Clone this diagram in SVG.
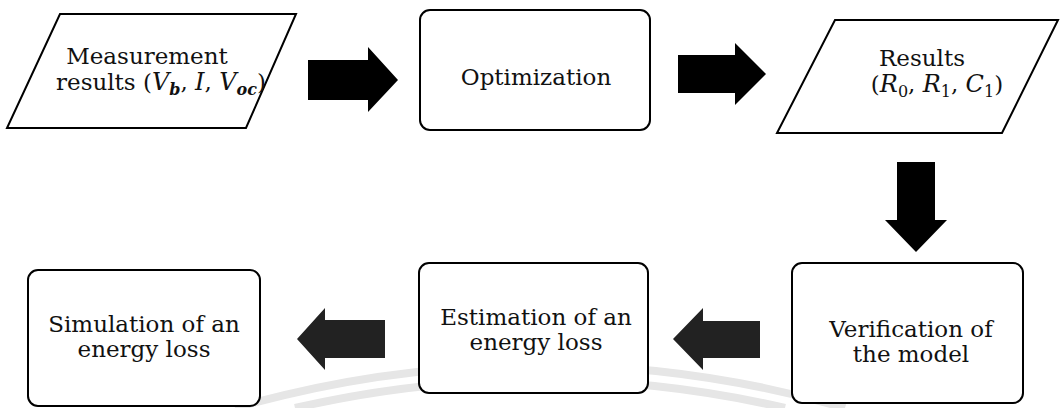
<svg xmlns="http://www.w3.org/2000/svg" width="1062" height="408" viewBox="0 0 1062 408">
<style>
.shape{fill:#fff;stroke:#000;stroke-width:2}
.t{font-family:"DejaVu Serif","Liberation Serif",serif;font-size:23px;fill:#111;text-anchor:middle}
.i{font-style:italic;font-size:24px}
.s{font-size:16px}
.sb{font-size:16px;font-style:italic;font-weight:bold}
.ab{fill:#000}
.ag{fill:#222}
.wm{fill:none;stroke:#e6e6e6;stroke-width:8}
</style>
<rect width="1062" height="408" fill="#fff"/>
<g id="watermark">
<path class="wm" d="M235 408 A1103 1103 0 0 1 845 408"/>
<path class="wm" d="M295 408 A1088 1088 0 0 1 785 408"/>
</g>
<g id="measurement">
<polygon class="shape" points="60,14 296,14 246,128 7,128"/>
<text class="t" x="147" y="64">Measurement</text>
<text class="t" x="161" y="90">results (<tspan class="i">V</tspan><tspan class="sb" dy="5">b</tspan><tspan dy="-5">, </tspan><tspan class="i">I</tspan>, <tspan class="i">V</tspan><tspan class="sb" dy="5">oc</tspan><tspan dy="-5">)</tspan></text>
</g>
<g id="optimization">
<rect class="shape" x="420" y="10" width="230" height="120" rx="10"/>
<text class="t" x="536" y="85">Optimization</text>
</g>
<g id="results">
<polygon class="shape" points="835,20 1058,20 1002,133 777,133"/>
<text class="t" x="922" y="66">Results</text>
<text class="t" x="937" y="92">(<tspan class="i">R</tspan><tspan class="s" dy="5">0</tspan><tspan dy="-5">, </tspan><tspan class="i">R</tspan><tspan class="s" dy="5">1</tspan><tspan dy="-5">, </tspan><tspan class="i">C</tspan><tspan class="s" dy="5">1</tspan><tspan dy="-5">)</tspan></text>
</g>
<g id="verification">
<rect class="shape" x="792" y="263" width="231" height="140" rx="10"/>
<text class="t" x="911" y="337">Verification of</text>
<text class="t" x="911" y="362">the model</text>
</g>
<g id="estimation">
<rect class="shape" x="419" y="263" width="229" height="130" rx="10"/>
<text class="t" x="536" y="325">Estimation of an</text>
<text class="t" x="536" y="350">energy loss</text>
</g>
<g id="simulation">
<rect class="shape" x="28" y="270" width="232" height="136" rx="10"/>
<text class="t" x="144" y="332">Simulation of an</text>
<text class="t" x="144" y="357">energy loss</text>
</g>
<g id="connectors">
<polygon class="ab" points="308,60 368,60 368,47 398,80 368,112 368,100 308,100"/>
<polygon class="ab" points="678,55 735,55 735,43 766,74 735,105 735,93 678,93"/>
<polygon class="ab" points="897,162 935,162 935,220 947,220 916,252 885,220 897,220"/>
<polygon class="ag" points="760,321 703,321 703,308 673,339 703,370 703,358 760,358"/>
<polygon class="ag" points="385,320 325,320 325,308 297,339 325,370 325,358 385,358"/>
</g>
</svg>
